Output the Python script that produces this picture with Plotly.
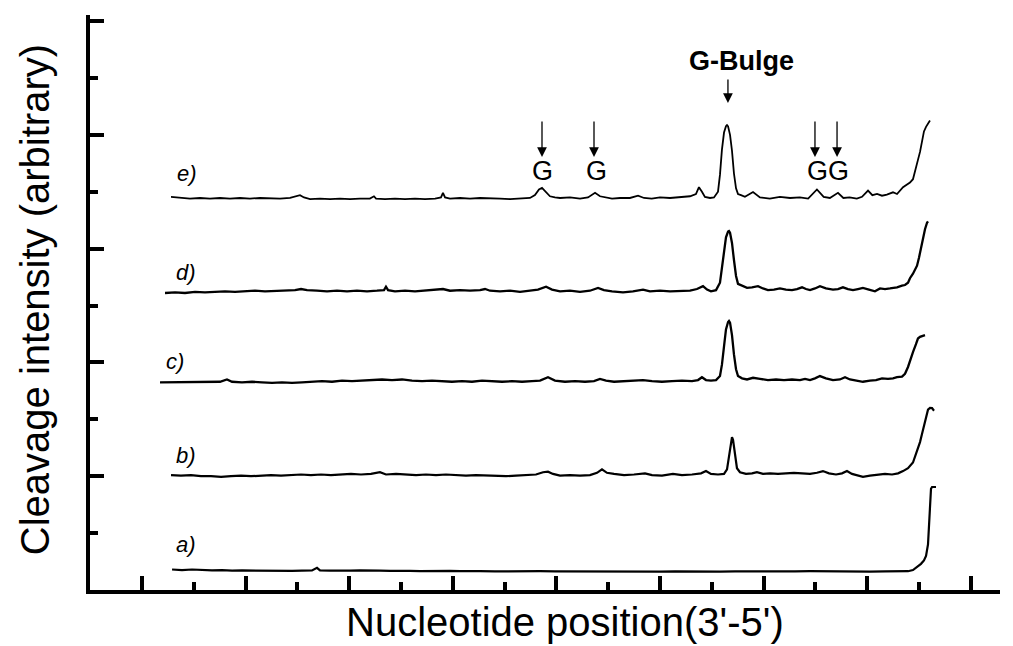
import plotly.graph_objects as go

# ---- data (x: nucleotide position, y: cleavage intensity, arbitrary) ----
trace_a = [[12.90,0.18],[13.86,0.175],[14.83,0.18],[15.79,0.175],[16.76,0.172],[17.72,0.175],[18.69,0.17],
    [19.65,0.172],[20.62,0.17],[21.58,0.172],[22.55,0.168],[23.51,0.17],[24.48,0.168],[25.44,0.17],[26.41,0.172],
    [26.89,0.195],[27.18,0.172],[28.15,0.17],[29.11,0.168],[30.08,0.17],[31.04,0.172],[32.01,0.168],[32.97,0.17],
    [33.94,0.168],[34.90,0.17],[35.87,0.168],[36.83,0.165],[37.80,0.168],[38.76,0.166],[39.73,0.168],[40.70,0.165],
    [41.66,0.167],[42.63,0.165],[44.07,0.163],[45.52,0.165],[46.97,0.162],[48.42,0.165],[49.86,0.163],[51.31,0.162],
    [52.76,0.165],[54.21,0.162],[55.66,0.164],[57.10,0.162],[58.55,0.163],[60.00,0.162],[61.45,0.164],[62.90,0.162],
    [64.34,0.163],[65.79,0.161],[67.24,0.163],[68.69,0.162],[70.14,0.164],[71.58,0.165],[73.03,0.163],[74.48,0.165],
    [75.93,0.163],[77.37,0.162],[78.82,0.163],[80.27,0.162],[81.72,0.163],[83.17,0.162],[83.94,0.165],[84.42,0.175],
    [84.81,0.20],[85.19,0.23],[85.48,0.26],[85.68,0.30],[85.87,0.40],[85.97,0.55],[86.06,0.70],[86.16,0.89],
    [86.26,0.905],[86.45,0.905],[86.64,0.905]]

trace_b = [[12.80,1.01],[13.76,1.005],[14.73,1.01],[15.69,1.0],[16.66,1.0],[17.63,0.995],[18.59,1.0],[19.56,1.005],
    [20.52,1.0],[21.49,1.005],[22.45,1.01],[23.42,1.005],[24.38,1.01],[25.35,1.015],[26.31,1.01],[27.28,1.015],
    [28.24,1.01],[29.21,1.015],[30.17,1.02],[31.14,1.015],[32.10,1.02],[32.97,1.035],[33.55,1.015],[34.52,1.02],
    [35.48,1.015],[36.45,1.01],[37.41,1.015],[38.38,1.01],[39.34,1.015],[40.31,1.01],[41.27,1.005],[42.24,1.01],
    [43.20,1.005],[44.17,1.005],[45.14,1.0],[46.10,1.005],[47.07,1.01],[48.03,1.015],[48.71,1.035],[49.19,1.04],
    [49.67,1.02],[50.35,1.005],[51.31,1.01],[52.28,1.005],[53.24,1.01],[53.92,1.03],[54.40,1.06],[54.88,1.03],
    [55.56,1.02],[56.53,1.01],[57.49,1.015],[58.55,1.025],[59.23,1.01],[60.19,1.005],[61.25,1.02],[62.12,1.01],
    [63.09,1.015],[63.96,1.025],[64.44,1.045],[64.92,1.02],[65.60,1.015],[66.18,1.02],[66.47,1.06],[66.66,1.16],
    [66.86,1.29],[66.95,1.344],[67.05,1.32],[67.24,1.19],[67.43,1.07],[67.72,1.035],[68.30,1.02],[68.88,1.025],
    [69.36,1.035],[69.94,1.02],[70.62,1.025],[71.39,1.02],[72.16,1.025],[72.93,1.03],[73.71,1.025],[74.48,1.02],
    [75.15,1.03],[75.73,1.045],[76.31,1.025],[76.99,1.015],[77.57,1.025],[78.05,1.045],[78.53,1.02],[79.11,1.005],
    [79.59,0.995],[80.27,1.005],[81.04,1.01],[81.72,1.02],[82.40,1.015],[82.98,1.025],[83.46,1.045],[83.94,1.07],
    [84.42,1.12],[84.71,1.19],[84.90,1.25],[85.10,1.30],[85.29,1.37],[85.48,1.44],[85.68,1.51],[85.87,1.585],
    [86.06,1.60],[86.26,1.598],[86.45,1.575]]

trace_c = [[11.74,1.825],[12.70,1.825],[13.67,1.83],[14.63,1.825],[15.60,1.83],[16.56,1.825],[17.53,1.83],
    [18.20,1.85],[18.69,1.83],[19.65,1.825],[20.62,1.83],[21.58,1.825],[22.55,1.82],[23.51,1.825],[24.48,1.82],
    [25.44,1.825],[26.41,1.83],[27.37,1.835],[28.34,1.83],[29.31,1.84],[30.27,1.835],[31.24,1.84],[32.20,1.845],
    [33.17,1.85],[34.13,1.845],[35.10,1.85],[36.06,1.84],[37.03,1.835],[37.99,1.84],[38.96,1.835],[39.92,1.83],
    [40.89,1.835],[41.85,1.83],[42.82,1.84],[43.78,1.835],[44.75,1.83],[45.71,1.835],[46.68,1.83],[47.64,1.835],
    [48.42,1.84],[49.19,1.87],[49.86,1.84],[50.83,1.83],[51.80,1.835],[52.76,1.83],[53.63,1.835],[54.21,1.855],
    [54.79,1.84],[55.56,1.83],[56.53,1.835],[57.49,1.84],[58.36,1.845],[59.23,1.835],[60.19,1.83],[61.16,1.835],
    [62.12,1.84],[63.09,1.835],[63.67,1.845],[64.05,1.87],[64.44,1.845],[64.92,1.84],[65.41,1.845],[65.79,1.88],
    [65.98,1.98],[66.18,2.14],[66.37,2.29],[66.57,2.355],[66.66,2.364],[66.76,2.35],[66.95,2.24],[67.14,2.07],
    [67.34,1.94],[67.53,1.88],[67.92,1.86],[68.40,1.85],[68.98,1.865],[69.65,1.855],[70.42,1.845],[71.20,1.85],
    [71.97,1.845],[72.74,1.85],[73.51,1.845],[74.00,1.855],[74.48,1.845],[74.96,1.86],[75.44,1.88],[76.02,1.86],
    [76.70,1.845],[77.37,1.85],[77.86,1.87],[78.34,1.85],[79.02,1.84],[79.59,1.83],[80.27,1.84],[80.85,1.845],
    [81.43,1.86],[82.01,1.855],[82.49,1.86],[82.88,1.87],[83.36,1.875],[83.65,1.90],[83.94,1.96],[84.13,2.02],
    [84.42,2.09],[84.71,2.16],[84.90,2.21],[85.10,2.225],[85.29,2.23],[85.58,2.24]]

trace_d = [[12.22,2.61],[13.19,2.615],[14.15,2.61],[15.12,2.62],[16.08,2.615],[17.05,2.62],[18.01,2.625],
    [18.98,2.62],[19.94,2.625],[20.91,2.63],[21.87,2.625],[22.84,2.63],[23.80,2.635],[24.77,2.635],[25.35,2.645],
    [25.93,2.635],[26.89,2.63],[27.86,2.625],[28.82,2.63],[29.79,2.625],[30.75,2.63],[31.72,2.625],[32.68,2.63],
    [33.36,2.635],[33.55,2.665],[33.75,2.635],[34.42,2.625],[35.39,2.63],[36.35,2.625],[37.32,2.63],[38.29,2.635],
    [39.05,2.645],[39.73,2.63],[40.70,2.635],[41.66,2.63],[42.63,2.635],[43.11,2.645],[43.59,2.63],[44.56,2.625],
    [45.52,2.63],[46.49,2.62],[47.45,2.63],[48.22,2.64],[49.00,2.665],[49.58,2.64],[50.35,2.625],[51.31,2.63],
    [52.28,2.62],[53.24,2.63],[54.02,2.655],[54.59,2.635],[55.37,2.625],[56.43,2.615],[57.39,2.625],[58.36,2.64],
    [59.03,2.625],[60.00,2.63],[60.97,2.625],[61.93,2.63],[62.90,2.63],[63.57,2.645],[64.15,2.67],[64.54,2.64],
    [64.92,2.625],[65.41,2.635],[65.79,2.70],[65.98,2.83],[66.18,2.98],[66.37,3.10],[66.57,3.15],[66.66,3.155],
    [66.76,3.14],[66.95,3.05],[67.14,2.90],[67.34,2.76],[67.53,2.69],[67.92,2.675],[68.40,2.655],[68.88,2.66],
    [69.46,2.67],[69.94,2.65],[70.42,2.635],[71.00,2.64],[71.58,2.65],[72.16,2.64],[72.74,2.635],[73.22,2.645],
    [73.71,2.66],[74.09,2.645],[74.48,2.635],[74.96,2.65],[75.44,2.67],[76.02,2.65],[76.70,2.64],[77.18,2.645],
    [77.66,2.66],[78.15,2.645],[78.63,2.635],[79.11,2.645],[79.59,2.655],[80.17,2.64],[80.75,2.625],[81.24,2.65],
    [81.72,2.645],[82.20,2.65],[82.88,2.66],[83.36,2.675],[83.65,2.68],[83.94,2.70],[84.13,2.74],[84.42,2.78],
    [84.61,2.81],[84.81,2.85],[85.00,2.92],[85.19,3.01],[85.39,3.10],[85.58,3.17],[85.77,3.225],[85.87,3.24]]

trace_e = [[12.80,3.455],[13.67,3.445],[14.63,3.44],[15.60,3.445],[16.56,3.44],[17.53,3.445],[18.49,3.44],
    [19.46,3.445],[20.42,3.44],[21.39,3.445],[22.36,3.44],[23.32,3.44],[24.29,3.445],[24.96,3.46],[25.25,3.47],
    [25.64,3.45],[26.22,3.435],[27.18,3.44],[28.15,3.435],[29.11,3.44],[30.08,3.435],[31.04,3.44],[32.00,3.44],
    [32.39,3.46],[32.59,3.44],[33.46,3.435],[34.42,3.44],[35.39,3.435],[36.35,3.44],[37.32,3.435],[38.29,3.44],
    [38.86,3.45],[39.05,3.49],[39.25,3.45],[39.73,3.44],[40.70,3.445],[41.66,3.44],[42.63,3.445],[43.59,3.445],
    [44.56,3.44],[45.52,3.435],[46.49,3.44],[47.45,3.445],[47.93,3.47],[48.32,3.52],[48.61,3.533],[49.00,3.50],
    [49.38,3.46],[49.86,3.45],[50.35,3.445],[51.31,3.45],[52.28,3.44],[53.05,3.45],[53.73,3.49],[54.21,3.46],
    [54.69,3.45],[55.37,3.44],[56.14,3.445],[57.10,3.445],[57.88,3.465],[58.46,3.445],[59.20,3.44],[60.00,3.45],
    [60.97,3.445],[61.93,3.45],[62.90,3.46],[63.47,3.48],[63.76,3.54],[64.05,3.50],[64.34,3.455],[64.83,3.445],
    [65.21,3.45],[65.60,3.50],[65.79,3.65],[65.98,3.87],[66.18,4.02],[66.37,4.075],[66.47,4.086],[66.57,4.075],
    [66.76,4.00],[66.95,3.86],[67.14,3.66],[67.34,3.53],[67.53,3.48],[67.82,3.47],[68.20,3.455],[68.98,3.497],
    [69.65,3.45],[70.60,3.44],[71.58,3.455],[72.55,3.445],[73.50,3.45],[74.30,3.44],[75.15,3.52],[75.80,3.455],
    [76.40,3.445],[77.18,3.49],[77.70,3.445],[78.30,3.45],[79.00,3.44],[79.50,3.455],[80.08,3.51],[80.50,3.47],
    [80.95,3.48],[81.43,3.465],[81.90,3.475],[82.49,3.495],[82.88,3.48],[83.46,3.54],[83.75,3.56],[84.13,3.58],
    [84.42,3.61],[84.71,3.70],[84.90,3.78],[85.10,3.85],[85.29,3.95],[85.48,4.03],[85.68,4.07],[85.87,4.10],
    [86.06,4.125]]

trace_names = ["a)", "b)", "c)", "d)", "e)"]
label_pos = [[14.25, 0.404], [14.25, 1.178], [13.19, 2.004], [14.25, 2.794], [14.37, 3.66]]

g_marks_x = [48.61, 53.63, 74.96, 77.09]      # arrows above G sites (trace e)
g_text = [["G", 48.7], ["G", 53.9], ["GG", 76.2]]
bulge_x = 66.56

x_major = [10, 20, 30, 40, 50, 60, 70, 80, 90]
y_major = [0, 1, 2, 3, 4, 5]

# ---- figure ----
fig = go.Figure()
for tr, w in [(trace_a, 2.2), (trace_b, 2.2), (trace_c, 2.3), (trace_d, 2.3), (trace_e, 1.8)]:
    xs, ys = zip(*tr)
    fig.add_trace(go.Scatter(x=list(xs), y=list(ys), mode="lines",
                             line=dict(color="black", width=w), showlegend=False,
                             hoverinfo="skip"))

ann = []
for name, (lx, ly) in zip(trace_names, label_pos):
    ann.append(dict(x=lx, y=ly, xref="x", yref="y", text="<i>%s</i>" % name, showarrow=False,
                    font=dict(family="Liberation Sans, Arial", size=22, color="black")))
for gx in g_marks_x:
    ann.append(dict(x=gx, y=3.805, ax=gx, ay=4.13, xref="x", yref="y", axref="x", ayref="y",
                    text="", showarrow=True, arrowhead=2, arrowsize=1.5, arrowwidth=1.3,
                    arrowcolor="black"))
for t, gx in g_text:
    ann.append(dict(x=gx, y=3.68, xref="x", yref="y", text=t, showarrow=False,
                    font=dict(family="Liberation Sans, Arial", size=27, color="black")))
ann.append(dict(x=bulge_x, y=4.28, ax=bulge_x, ay=4.50, xref="x", yref="y", axref="x", ayref="y",
                text="", showarrow=True, arrowhead=2, arrowsize=1.5, arrowwidth=1.3, arrowcolor="black"))
ann.append(dict(x=67.9, y=4.648, xref="x", yref="y", text="<b>G-Bulge</b>", showarrow=False,
                font=dict(family="Liberation Sans, Arial", size=27, color="black")))
ann.append(dict(x=0.522, y=-0.0557, xref="paper", yref="paper", text="Nucleotide position(3'-5')",
                showarrow=False, yanchor="middle",
                font=dict(family="Liberation Sans, Arial", size=40, color="black")))
ann.append(dict(x=-0.0604, y=0.504, xref="paper", yref="paper", text="Cleavage intensity (arbitrary)",
                showarrow=False, textangle=-90, xanchor="center", yanchor="middle",
                font=dict(family="Liberation Sans, Arial", size=40, color="black")))

fig.update_layout(
    width=1013, height=646,
    margin=dict(l=90, r=13, t=15, b=56),
    paper_bgcolor="white", plot_bgcolor="white",
    annotations=ann,
    xaxis=dict(range=[4.98, 92.82], tickvals=x_major, showticklabels=False, ticks="inside",
               ticklen=14, tickwidth=4, tickcolor="black", showgrid=False, zeroline=False,
               showline=True, linecolor="black", linewidth=4,
               minor=dict(tickvals=[15, 25, 35, 45, 55, 65, 75, 85], ticks="inside", ticklen=8,
                          tickwidth=4, tickcolor="black", showgrid=False)),
    yaxis=dict(range=[0, 5.053], tickvals=y_major, showticklabels=False, ticks="inside",
               ticklen=14, tickwidth=4, tickcolor="black", showgrid=False, zeroline=False,
               showline=True, linecolor="black", linewidth=4,
               minor=dict(tickvals=[0.5, 1.5, 2.5, 3.5, 4.5], ticks="inside", ticklen=8,
                          tickwidth=4, tickcolor="black", showgrid=False)),
)

fig.write_html("out.html")
